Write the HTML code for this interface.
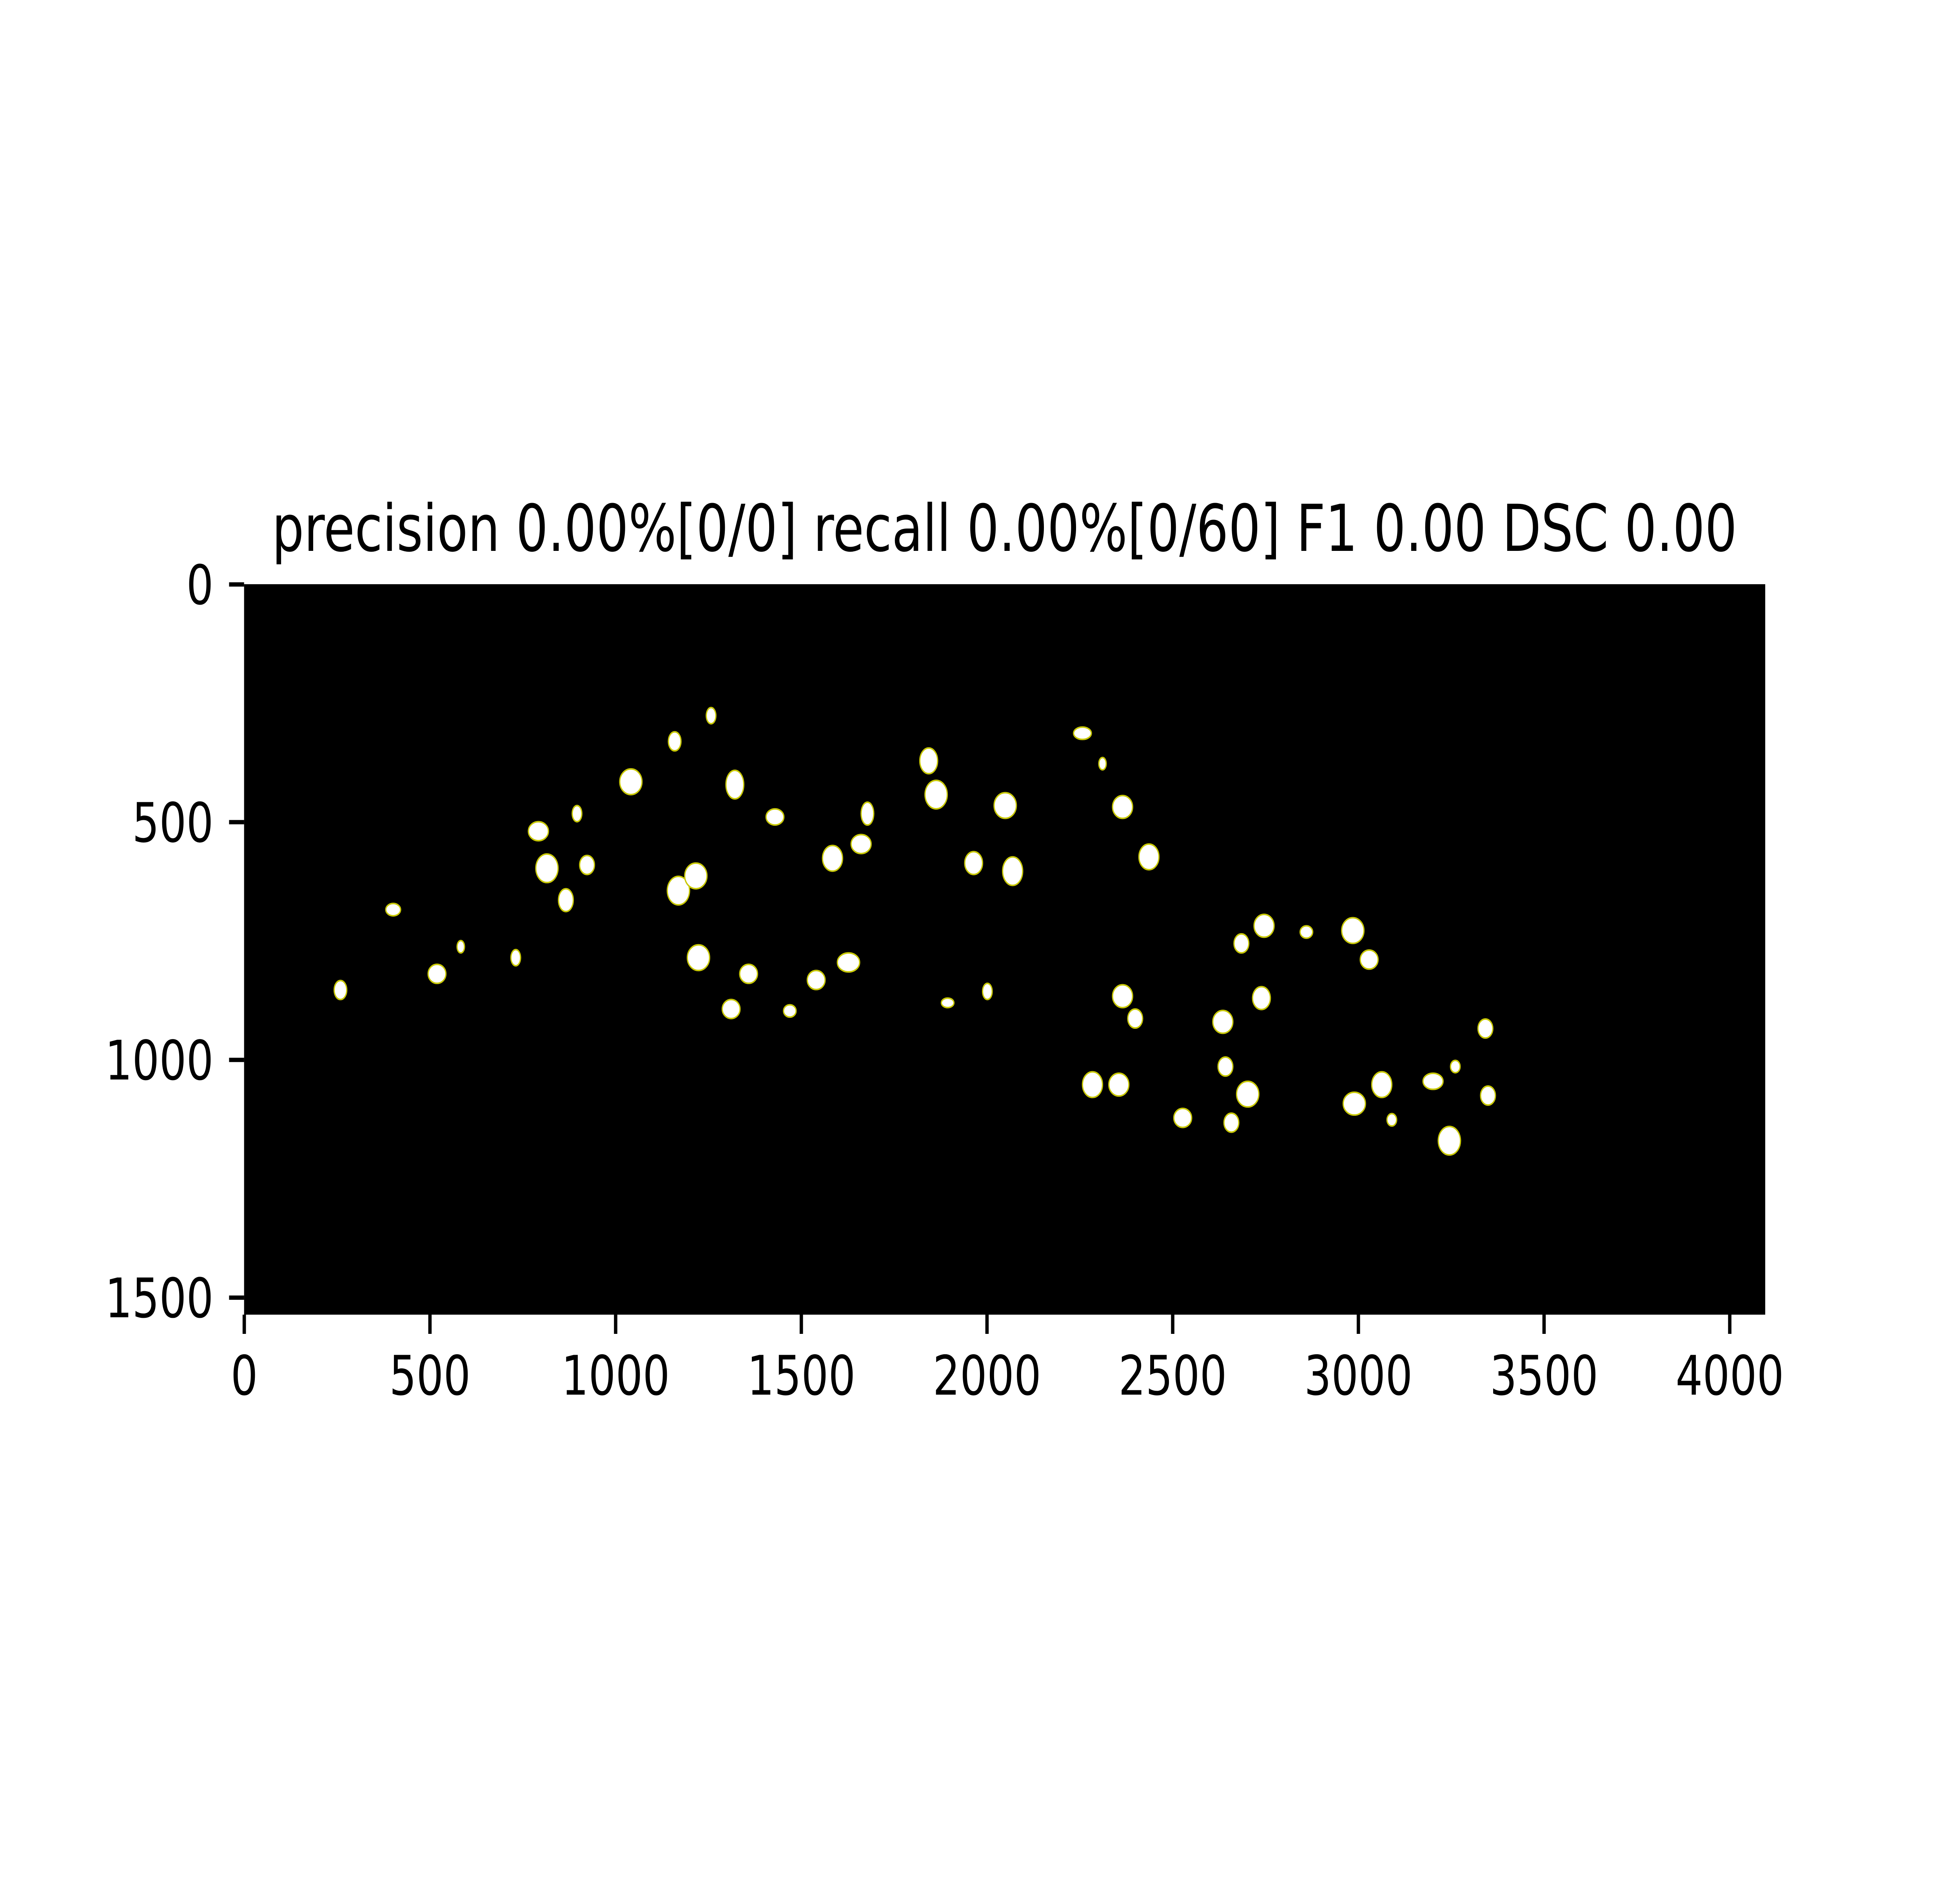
<!DOCTYPE html>
<html><head><meta charset="utf-8">
<style>
html,body{margin:0;padding:0;background:#fff;width:100%;height:100%;overflow:hidden;}
svg{display:block;position:absolute;left:0;top:0;width:100vw;height:100vh;}
text{font-family:"DejaVu Sans","Liberation Sans",sans-serif;fill:#000;}
</style></head>
<body>
<svg id="chart" viewBox="0 0 6400 4800" preserveAspectRatio="none" xmlns="http://www.w3.org/2000/svg">
<rect x="0" y="0" width="6400" height="4800" fill="#fff"/>
<text x="3280" y="1405" font-size="165" text-anchor="middle">precision 0.00%[0/0] recall 0.00%[0/60] F1 0.00 DSC 0.00</text>
<rect id="plot" x="797" y="1490" width="4967" height="1863" fill="#000"/>
<g id="blobs"></g>
<g id="axes"></g>
</svg>
<script>
const blobX = [259,401,519,583,731,792,815,866,896,923,1041,1159,1169,1216,1257,1223,1321,1311,1358,1429,1469,1540,1584,1627,1661,1678,1843,1863,1894,1964,2001,2049,2069,2257,2311,2365,2399,2436,2365,2284,2355,2527,2635,2642,2658,2685,2702,2746,2739,2860,2985,3029,2989,3063,3090,3201,3261,3245,3342,3349];
const blobY = [853,684,819,762,785,519,597,664,482,590,415,330,644,613,276,785,421,893,819,489,897,832,576,795,546,482,371,442,880,586,856,465,603,313,377,468,913,573,866,1052,1052,1122,920,1014,1132,755,1072,718,870,731,728,789,1092,1052,1126,1045,1014,1170,934,1075];
const blobRX = [17,20,24,10,13,27,30,20,13,20,30,17,30,30,13,30,24,24,24,24,17,24,27,30,27,17,24,30,17,24,13,30,27,24,10,27,20,27,27,27,27,24,27,20,20,20,30,27,24,17,30,24,30,27,13,27,13,30,20,20];
const blobRY = [20,13,20,13,17,20,30,24,17,20,27,20,30,27,17,27,30,20,20,17,13,20,27,20,20,24,27,30,10,24,17,27,30,13,13,24,20,27,24,27,24,20,24,20,20,20,27,24,24,13,27,20,24,27,13,17,13,30,20,20];
const xTicks = [0,500,1000,1500,2000,2500,3000,3500,4000];
const yTicks = [0,500,1000,1500];

const NS = "http://www.w3.org/2000/svg";
const L = 797, T = 1490, S = 4967/4096;
function sx(v){ return L + (v + 0.5) * S; }
function sy(v){ return T + (v + 0.5) * S; }

const bg = document.getElementById('blobs');
for (let i = 0; i < blobX.length; i++) {
  const e = document.createElementNS(NS, 'ellipse');
  e.setAttribute('cx', sx(blobX[i]));
  e.setAttribute('cy', sy(blobY[i]));
  e.setAttribute('rx', blobRX[i] * S);
  e.setAttribute('ry', blobRY[i] * S);
  e.setAttribute('fill', '#fff');
  e.setAttribute('stroke', '#c8c800');
  e.setAttribute('stroke-width', '4');
  
  
  bg.appendChild(e);
}

const ax = document.getElementById('axes');
const B = 3353;
for (const v of xTicks) {
  const x = sx(v);
  const t = document.createElementNS(NS, 'line');
  t.setAttribute('x1', x); t.setAttribute('x2', x);
  t.setAttribute('y1', B); t.setAttribute('y2', B + 49);
  t.setAttribute('stroke', '#000'); t.setAttribute('stroke-width', '11');
  
  
  ax.appendChild(t);
  const lb = document.createElementNS(NS, 'text');
  lb.setAttribute('x', x); lb.setAttribute('y', 3557);
  lb.setAttribute('font-size', '139'); lb.setAttribute('text-anchor', 'middle');
  lb.textContent = String(v);
  
  
  ax.appendChild(lb);
}
for (const v of yTicks) {
  const y = sy(v);
  const t = document.createElementNS(NS, 'line');
  t.setAttribute('x1', L - 49); t.setAttribute('x2', L);
  t.setAttribute('y1', y); t.setAttribute('y2', y);
  t.setAttribute('stroke', '#000'); t.setAttribute('stroke-width', '11');
  
  
  ax.appendChild(t);
  const lb = document.createElementNS(NS, 'text');
  lb.setAttribute('x', 697); lb.setAttribute('y', y + 50);
  lb.setAttribute('font-size', '139'); lb.setAttribute('text-anchor', 'end');
  lb.textContent = String(v);
  
  
  ax.appendChild(lb);
}
</script>
</body></html>
